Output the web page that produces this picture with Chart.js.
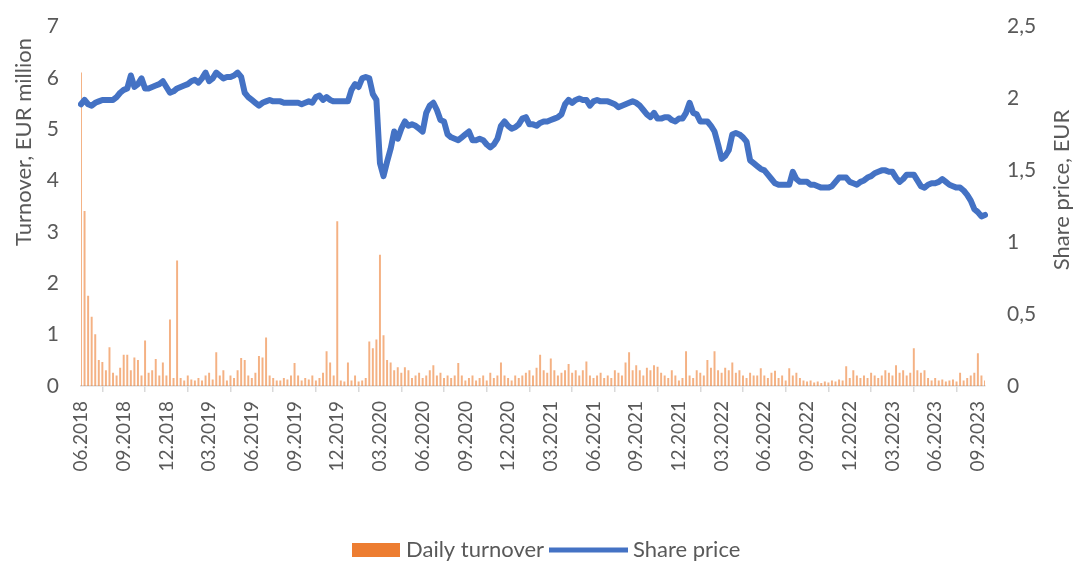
<!DOCTYPE html>
<html>
<head>
<meta charset="utf-8">
<script src="https://cdn.jsdelivr.net/npm/chart.js@4"></script>
<style>
  html, body { margin: 0; padding: 0; background: #fff; }
  #wrap { width: 1078px; height: 562px; }
</style>
</head>
<body>
<div id="wrap"><canvas id="myChart" width="1078" height="562"></canvas></div>
<script>
'use strict';

// Tick labels on the date axis, one every quarter (12 weekly slots)
const tickLabels = ['06.2018', '09.2018', '12.2018', '03.2019', '06.2019', '09.2019', '12.2019',
  '03.2020', '06.2020', '09.2020', '12.2020', '03.2021', '06.2021', '09.2021', '12.2021',
  '03.2022', '06.2022', '09.2022', '12.2022', '03.2023', '06.2023', '09.2023'];

// Share price, EUR (about four readings per month, from 06.2018)
const sharePrice = [
  1.96, 1.99, 1.96, 1.95,  1.97, 1.98, 1.99, 1.99,  1.99, 1.99, 2.01, 2.04,  2.06, 2.07, 2.16, 2.08,
  2.10, 2.14, 2.07, 2.07,  2.08, 2.09, 2.10, 2.12,  2.08, 2.04, 2.05, 2.07,  2.08, 2.09, 2.10, 2.12,
  2.13, 2.11, 2.14, 2.18,  2.12, 2.14, 2.18, 2.16,  2.14, 2.15, 2.15, 2.16,  2.18, 2.15, 2.04, 2.01,
  1.99, 1.97, 1.95, 1.97,  1.98, 1.99, 1.98, 1.98,  1.98, 1.97, 1.97, 1.97,  1.97, 1.97, 1.96, 1.97,
  1.98, 1.97, 2.01, 2.02,  1.99, 2.01, 1.99, 1.98,  1.98, 1.98, 1.98, 1.98,  2.06, 2.10, 2.08, 2.14,
  2.15, 2.14, 2.03, 1.99,  1.55, 1.46, 1.56, 1.65,  1.77, 1.72, 1.79, 1.84,  1.81, 1.82, 1.81, 1.79,
  1.77, 1.90, 1.95, 1.97,  1.92, 1.85, 1.84, 1.75,  1.73, 1.72, 1.71, 1.73,  1.75, 1.77, 1.71, 1.71,
  1.72, 1.71, 1.68, 1.66,  1.68, 1.72, 1.81, 1.84,  1.81, 1.79, 1.80, 1.82,  1.86, 1.87, 1.82, 1.82,
  1.81, 1.83, 1.84, 1.84,  1.85, 1.86, 1.87, 1.89,  1.96, 1.99, 1.97, 1.99,  2.00, 1.99, 1.99, 1.95,
  1.98, 1.99, 1.98, 1.98,  1.98, 1.97, 1.96, 1.94,  1.95, 1.96, 1.97, 1.98,  1.97, 1.95, 1.92, 1.89,
  1.87, 1.90, 1.86, 1.86,  1.87, 1.87, 1.85, 1.84,  1.86, 1.86, 1.90, 1.97,  1.90, 1.89, 1.84, 1.84,
  1.84, 1.81, 1.77, 1.68,  1.58, 1.60, 1.64, 1.75,  1.76, 1.75, 1.73, 1.70,  1.57, 1.55, 1.53, 1.51,
  1.50, 1.47, 1.44, 1.41,  1.40, 1.40, 1.40, 1.40,  1.49, 1.44, 1.42, 1.42,  1.42, 1.40, 1.40, 1.39,
  1.38, 1.38, 1.38, 1.39,  1.42, 1.45, 1.45, 1.45,  1.42, 1.41, 1.40, 1.42,  1.43, 1.45, 1.46, 1.48,
  1.49, 1.50, 1.50, 1.49,  1.49, 1.45, 1.42, 1.44,  1.47, 1.47, 1.47, 1.43,  1.39, 1.38, 1.40, 1.41,
  1.41, 1.42, 1.44, 1.42,  1.40, 1.39, 1.38, 1.38,  1.36, 1.33, 1.29, 1.23,  1.21, 1.18, 1.19
];

// Daily turnover, EUR million (peak day of each slot)
const turnover = [
  6.10, 3.40, 1.75, 1.34,  1.00, 0.50, 0.46, 0.30,  0.75, 0.25, 0.20, 0.35,  0.60, 0.60, 0.30, 0.55,
  0.50, 0.20, 0.88, 0.25,  0.30, 0.52, 0.20, 0.45,  0.20, 1.29, 0.15, 2.44,  0.15, 0.10, 0.20, 0.12,
  0.10, 0.15, 0.10, 0.20,  0.25, 0.12, 0.65, 0.20,  0.30, 0.10, 0.20, 0.15,  0.30, 0.54, 0.50, 0.20,
  0.15, 0.25, 0.58, 0.55,  0.94, 0.20, 0.15, 0.10,  0.10, 0.15, 0.12, 0.20,  0.44, 0.20, 0.10, 0.15,
  0.12, 0.20, 0.10, 0.15,  0.25, 0.67, 0.45, 0.20,  3.20, 0.10, 0.08, 0.45,  0.10, 0.20, 0.08, 0.10,
  0.15, 0.86, 0.73, 0.90,  2.55, 0.98, 0.50, 0.45,  0.30, 0.36, 0.25, 0.36,  0.30, 0.15, 0.20, 0.25,
  0.15, 0.20, 0.30, 0.40,  0.20, 0.25, 0.15, 0.20,  0.15, 0.20, 0.44, 0.20,  0.10, 0.15, 0.20, 0.10,
  0.15, 0.20, 0.10, 0.25,  0.15, 0.20, 0.45, 0.20,  0.15, 0.10, 0.20, 0.15,  0.20, 0.25, 0.30, 0.20,
  0.35, 0.60, 0.30, 0.25,  0.53, 0.30, 0.20, 0.25,  0.30, 0.42, 0.25, 0.30,  0.20, 0.30, 0.47, 0.20,
  0.15, 0.20, 0.25, 0.15,  0.20, 0.15, 0.30, 0.25,  0.20, 0.45, 0.65, 0.30,  0.40, 0.30, 0.20, 0.35,
  0.30, 0.40, 0.37, 0.25,  0.20, 0.15, 0.30, 0.20,  0.10, 0.15, 0.67, 0.20,  0.15, 0.30, 0.25, 0.20,
  0.50, 0.35, 0.67, 0.30,  0.25, 0.35, 0.30, 0.45,  0.25, 0.30, 0.20, 0.15,  0.25, 0.20, 0.20, 0.34,
  0.20, 0.15, 0.25, 0.29,  0.15, 0.20, 0.10, 0.34,  0.20, 0.25, 0.15, 0.10,  0.08, 0.10, 0.06, 0.08,
  0.05, 0.08, 0.06, 0.10,  0.08, 0.12, 0.10, 0.38,  0.15, 0.30, 0.20, 0.15,  0.20, 0.15, 0.25, 0.20,
  0.15, 0.20, 0.30, 0.25,  0.20, 0.40, 0.25, 0.30,  0.20, 0.25, 0.73, 0.30,  0.25, 0.30, 0.15, 0.10,
  0.15, 0.10, 0.12, 0.08,  0.10, 0.12, 0.08, 0.25,  0.10, 0.15, 0.20, 0.25,  0.63, 0.20, 0.10
];

// Category slots: 4 per month starting 06.2018
const slots = sharePrice.map((v, i) => {
  const m = 5 + Math.floor(i / 4);
  const mm = String(m % 12 + 1).padStart(2, '0');
  return mm + '.' + (2018 + Math.floor(m / 12)) + '/' + (i % 4 + 1);
});

const FONT = 'Lato, "Open Sans", sans-serif';
const GREY = '#595959';

// Axis titles (off-centre like the original) and the legend row at the bottom
const extras = {
  id: 'extras',
  afterDraw(chart) {
    const c = chart.ctx;
    const ds = chart.data.datasets;

    c.save();
    c.fillStyle = GREY;
    c.font = '22px ' + FONT;
    c.textAlign = 'center';
    c.textBaseline = 'middle';
    c.translate(24, 142);
    c.rotate(-Math.PI / 2);
    c.fillText('Turnover, EUR million', 0, 0);
    c.restore();

    c.save();
    c.fillStyle = GREY;
    c.font = '22px ' + FONT;
    c.textAlign = 'center';
    c.textBaseline = 'middle';
    c.translate(1062, 190);
    c.rotate(-Math.PI / 2);
    c.fillText('Share price, EUR', 0, 0);
    c.restore();

    // legend
    const ly = 550;
    c.save();
    c.font = '22px ' + FONT;
    c.fillStyle = '#ED7D31';
    c.fillRect(352, ly - 7, 48, 14);
    c.strokeStyle = ds[1].borderColor;
    c.lineWidth = 5;
    c.beginPath();
    c.moveTo(549, ly);
    c.lineTo(628, ly);
    c.stroke();
    c.fillStyle = GREY;
    c.textAlign = 'left';
    c.textBaseline = 'middle';
    c.fillText(ds[0].label, 406, ly);
    c.fillText(ds[1].label, 633, ly);
    c.restore();
  }
};

const ctx = document.getElementById('myChart').getContext('2d');
const myChart = new Chart(ctx, {
  type: 'bar',
  data: {
    labels: slots,
    datasets: [{
      type: 'bar',
      label: 'Daily turnover',
      data: turnover,
      yAxisID: 'y',
      backgroundColor: 'rgba(237,125,49,0.6)',
      barThickness: 1.3,
      order: 2
    }, {
      type: 'line',
      label: 'Share price',
      data: sharePrice,
      yAxisID: 'y2',
      borderColor: '#4472C4',
      backgroundColor: '#4472C4',
      borderWidth: 6,
      borderJoinStyle: 'round',
      borderCapStyle: 'round',
      pointRadius: 0,
      tension: 0,
      order: 1
    }]
  },
  plugins: [extras],
  options: {
    responsive: false,
    animation: false,
    layout: { padding: { top: 6, left: 0, right: 0, bottom: 0 } },
    plugins: {
      tooltip: { enabled: false },
      legend: { display: false }
    },
    scales: {
      x: {
        type: 'category',
        offset: false,
        afterFit: s => { s.height = 176; },
        grid: { display: true, drawOnChartArea: false, drawTicks: true, tickLength: 6, color: '#d9d9d9', lineWidth: 1.5 },
        border: { display: true, color: '#d9d9d9', width: 1.5 },
        ticks: {
          autoSkip: false,
          maxRotation: 90,
          minRotation: 90,
          padding: 9,
          color: GREY,
          font: { family: FONT, size: 19 },
          callback: (v, i) => (i % 12 === 0 ? tickLabels[i / 12] : null)
        }
      },
      y: {
        position: 'left',
        min: 0,
        max: 7,
        afterFit: s => { s.width = 81; },
        grid: { display: false },
        border: { display: false },
        ticks: { stepSize: 1, padding: 14, color: GREY, font: { family: FONT, size: 21 } }
      },
      y2: {
        position: 'right',
        min: 0,
        max: 2.5,
        afterFit: s => { s.width = 93; },
        grid: { display: false },
        border: { display: false },
        ticks: {
          stepSize: 0.5,
          padding: 14,
          color: GREY,
          font: { family: FONT, size: 21 },
          callback: v => String(v).replace('.', ',')
        }
      }
    }
  }
});
</script>
</body>
</html>
